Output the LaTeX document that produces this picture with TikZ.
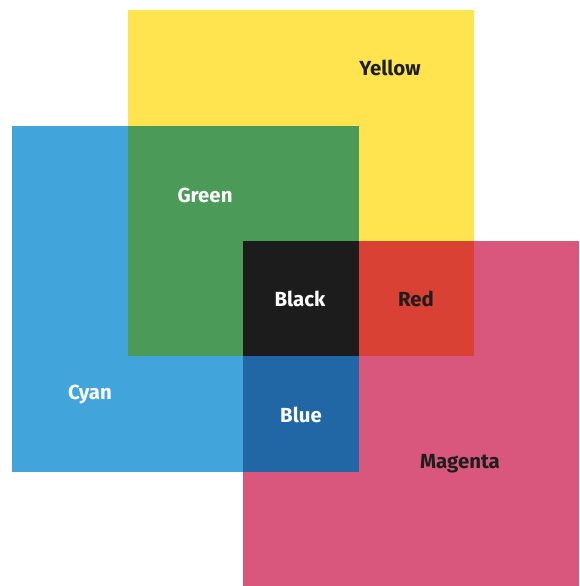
\documentclass[tikz,border=0pt]{standalone}
\usepackage{fontspec}
\setmainfont{Fira Sans}
\usetikzlibrary{positioning}
\definecolor{cmyYellow}{HTML}{FFE44F}
\definecolor{cmyCyan}{HTML}{41A4DB}
\definecolor{cmyMagenta}{HTML}{D9567D}
\definecolor{cmyGreen}{HTML}{4B9A58}
\definecolor{cmyBlack}{HTML}{1C1C1C}
\definecolor{cmyRed}{HTML}{D84134}
\definecolor{cmyBlue}{HTML}{2167A6}
\definecolor{inkDark}{HTML}{1E1E1E}

\begin{document}
\begin{tikzpicture}[
  x=0.5mm, y=-0.5mm,
  lbl/.style={font=\fontsize{29}{34}\selectfont\bfseries, inner sep=0pt},
  dark/.style={lbl, text=inkDark},
  light/.style={lbl, text=white}
]
\useasboundingbox (0,0) rectangle (579,586);

% primaries
\fill[cmyYellow]  (128,10)  rectangle (474,356);
\fill[cmyCyan]    (12,126)  rectangle (359,472);
\fill[cmyMagenta] (243,241) rectangle (579,586);

% overlaps
\fill[cmyGreen] (128,126) rectangle (359,356);
\fill[cmyRed]   (359,241) rectangle (474,356);
\fill[cmyBlue]  (243,356) rectangle (359,472);
\fill[cmyBlack] (243,241) rectangle (359,356);

\node[dark]  (yellow)  at (390,68)  {Yellow};
\node[light] (green)   at (205,195) {Green};
\node[light] (black)   at (300,299) {Black};
\node[dark]  (red)     at (416,299) {Red};
\node[light] (cyan)    at (90,395)  {Cyan};
\node[light] (blue)    at (301,415) {Blue};
\node[dark]  (magenta) at (460,464) {Magenta};
\end{tikzpicture}
\end{document}
